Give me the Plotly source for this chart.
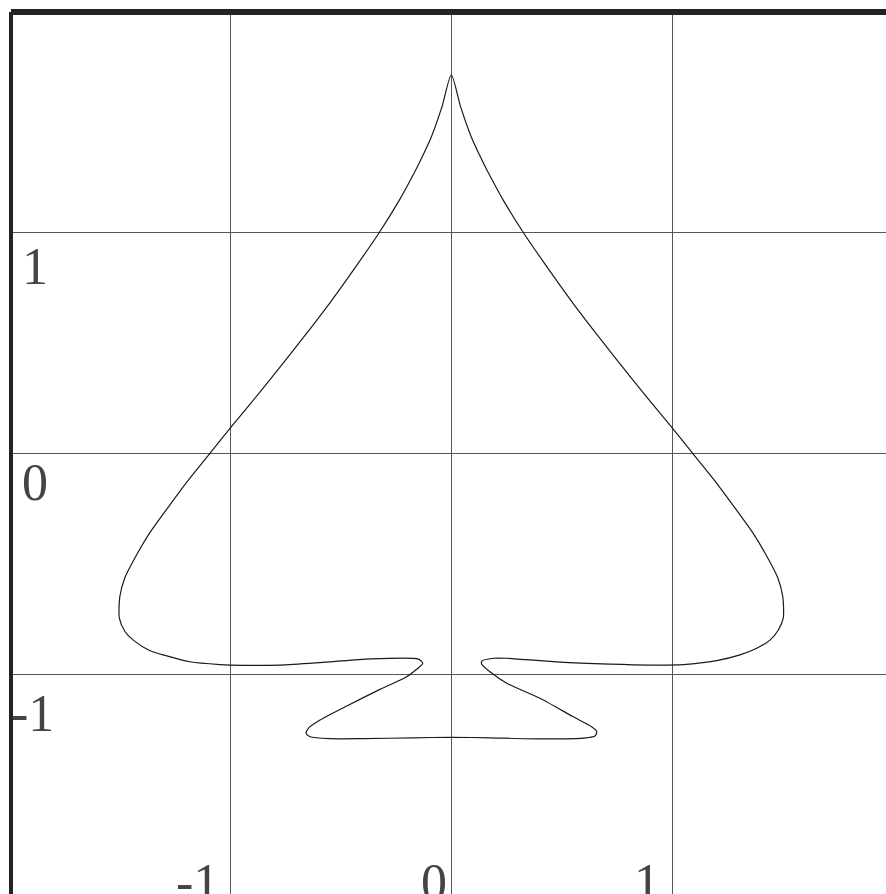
import plotly.graph_objects as go

# Outline of the spade, traced clockwise from the top tip
curve_x = [
    # right flank, tip down to the widest point
    0.000, 0.042, 0.090, 0.124, 0.161, 0.185, 0.235, 0.328, 0.432, 0.551,
    0.678, 0.815, 0.920, 0.995, 1.094, 1.190, 1.274, 1.366, 1.420, 1.478,
    1.500, 1.502,
    # right lower bulge back towards the stem
    1.480, 1.442, 1.382, 1.306, 1.201, 1.050, 0.899, 0.718, 0.492, 0.251,
    0.190, 0.138, 0.138, 0.175, 0.251, 0.401, 0.552, 0.635, 0.658, 0.650,
    0.613,
    # base of the stem
    0.401, 0.175, 0.000, -0.172, -0.398, -0.549, -0.639,
    # left foot and notch
    -0.657, -0.647, -0.594, -0.473, -0.323, -0.202, -0.157, -0.129, -0.149, -0.383,
    -0.594, -0.775, -1.001, -1.047, -1.182, -1.288, -1.363, -1.439, -1.476, -1.502,
    -1.500,
    # left flank, widest point up to the tip
    -1.478, -1.420, -1.366, -1.274, -1.190, -1.094, -0.995, -0.920, -0.815, -0.678,
    -0.551, -0.432, -0.328, -0.235, -0.185, -0.161, -0.124, -0.090, -0.042, 0.000,
]
curve_y = [
    1.714, 1.571, 1.435, 1.360, 1.284, 1.239, 1.148, 0.998, 0.847, 0.681,
    0.515, 0.342, 0.213, 0.123, 0.000, -0.119, -0.232, -0.360, -0.450, -0.563,
    -0.647, -0.744,
    -0.797, -0.843, -0.880, -0.910, -0.936, -0.954, -0.956, -0.952, -0.943, -0.925,
    -0.925, -0.938, -0.952, -0.986, -1.038, -1.106, -1.190, -1.235, -1.257, -1.277,
    -1.285,
    -1.290, -1.285, -1.283, -1.285, -1.289, -1.289, -1.280,
    -1.265, -1.242, -1.205, -1.141, -1.066, -1.009, -0.975, -0.948, -0.929, -0.929,
    -0.945, -0.956, -0.956, -0.954, -0.941, -0.914, -0.891, -0.843, -0.805, -0.744,
    -0.647,
    -0.563, -0.450, -0.360, -0.232, -0.119, 0.000, 0.123, 0.213, 0.342, 0.515,
    0.681, 0.847, 0.998, 1.148, 1.239, 1.284, 1.360, 1.435, 1.571, 1.714,
]

tick_values = [-1, 0, 1]
tick_labels = ["-1", "0", "1"]

W, H = 886, 894
ML, MT = 11, 12
PX = 221.0          # pixels per unit on both axes
X0_PIX, Y0_PIX = 451.3, 453.8

x_range = [(ML - X0_PIX) / PX, (W - X0_PIX) / PX]
y_range = [(Y0_PIX - H) / PX, (Y0_PIX - MT) / PX]

FONT = dict(family="Liberation Serif, Times New Roman, serif", size=52, color="#444444")

fig = go.Figure()
fig.add_trace(go.Scatter(
    x=curve_x, y=curve_y, mode="lines",
    line=dict(color="#1a1a1a", width=1.2, shape="spline", smoothing=0.7),
    hoverinfo="skip", showlegend=False,
))

axis_common = dict(
    showgrid=True, gridcolor="#555555", gridwidth=1,
    zeroline=False, showticklabels=False, ticks="",
    tickmode="array", tickvals=tick_values, showline=False,
    fixedrange=True,
)
fig.update_xaxes(range=x_range, **axis_common)
fig.update_yaxes(range=y_range, **axis_common)

# frame: heavy left and top edges
fig.add_shape(type="line", xref="paper", yref="paper", x0=0, x1=0, y0=0, y1=1,
              line=dict(color="#222222", width=4))
fig.add_shape(type="line", xref="paper", yref="paper", x0=0, x1=1, y0=1, y1=1,
              line=dict(color="#222222", width=6))

# value labels along the left edge (drawn inside the frame)
y_label_dx = {"1": 8.5, "0": 8.5, "-1": -2}
y_label_dy = {"1": -3.4, "0": 2, "-1": -8}
for v, t in zip(tick_values, tick_labels):
    fig.add_annotation(x=0, xref="paper", y=v, yref="y", text=t, showarrow=False,
                       xanchor="left", yanchor="top", xshift=y_label_dx[t],
                       yshift=y_label_dy[t], font=FONT)

# value labels along the bottom edge
x_label_dx = {"-1": -56.3, "0": -32.5, "1": -40.3}
for v, t in zip(tick_values, tick_labels):
    fig.add_annotation(x=v, xref="x", y=0, yref="paper", text=t, showarrow=False,
                       xanchor="left", yanchor="top", xshift=x_label_dx[t],
                       yshift=41.6, font=FONT)

fig.update_layout(
    width=W, height=H,
    margin=dict(l=ML, r=0, t=MT, b=0, pad=0),
    plot_bgcolor="white", paper_bgcolor="white",
)

fig.write_html("out.html")
